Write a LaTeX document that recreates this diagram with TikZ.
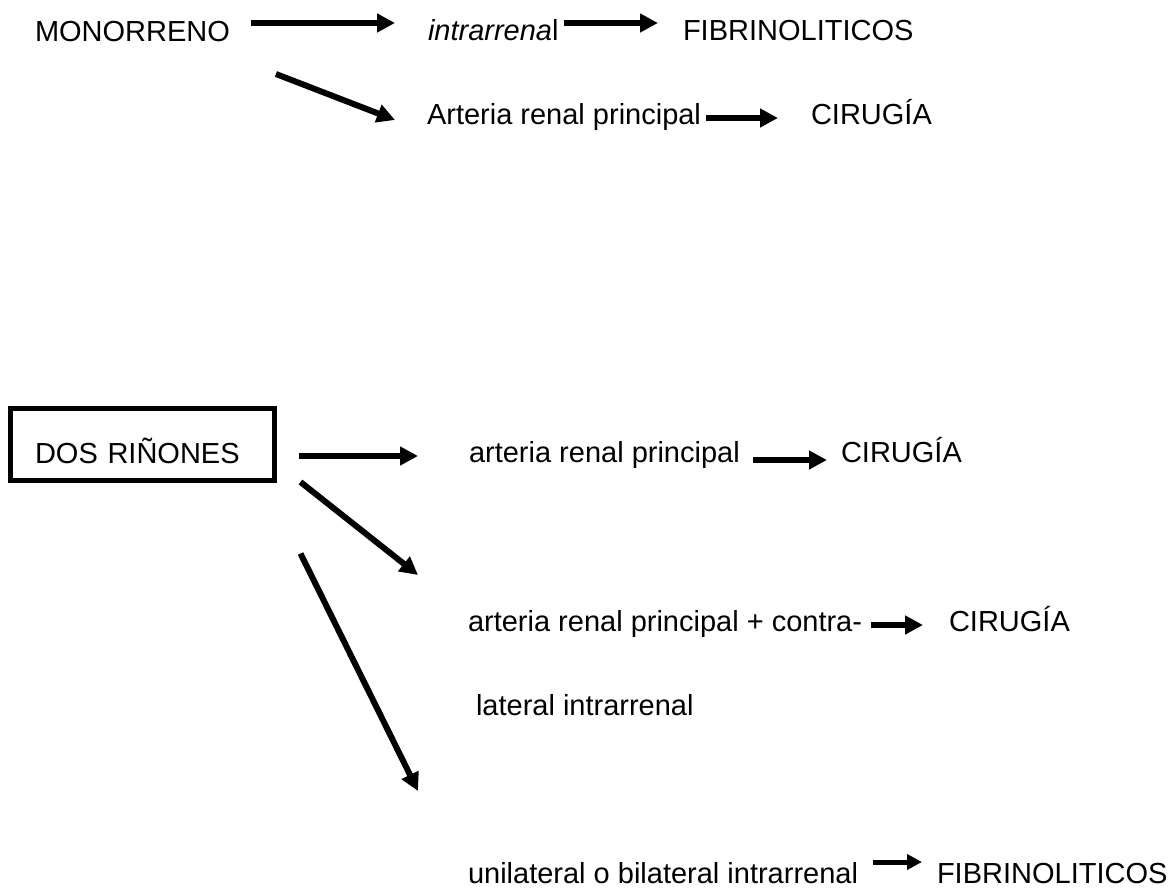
\documentclass[tikz,border=0pt]{standalone}
\usepackage{fontspec}
\setmainfont{Liberation Sans}
\usetikzlibrary{arrows.meta, positioning, calc}

\begin{document}
\begin{tikzpicture}[
    x=1pt, y=1pt,
    every node/.style={inner sep=0pt, outer sep=0pt, font=\fontsize{29}{34}\selectfont},
    txt/.style={anchor=base west},
    box/.style={draw, line width=5pt, minimum width=264pt, minimum height=72pt, text width=215pt, align=left, text height=37pt, text depth=0pt},
    arrow/.style={line width=6pt, -{Triangle[length=18pt, width=18pt]}},
    smallarrow/.style={line width=5pt, -{Triangle[length=15pt, width=15pt]}},
]
\useasboundingbox (0,0) rectangle (1176,-888);

% Nodes
\node[txt] (monorreno) at (35,-42) {MONORRENO};
\node[txt] (intrarrenal) at (428,-41) {\textit{intrarrena}l};
\node[txt] (fibrinoA) at (683,-41) {FIBRINOLITICOS};
\node[txt] (arteriaA) at (427,-125) {Arteria renal principal};
\node[txt] (cirugiaA) at (811,-125) {CIRUGÍA};

\node[box] (dos) at (142.5,-444.5) {DOS RIÑONES};
\node[txt] (arteriaB) at (469,-462) {arteria renal principal};
\node[txt] (cirugiaB) at (841,-462) {CIRUGÍA};
\node[txt] (arteriaC) at (468,-631) {arteria renal principal + contra-};
\node[txt] (cirugiaC) at (949,-631) {CIRUGÍA};
\node[txt] (lateral) at (476,-715) {lateral intrarrenal};
\node[txt] (unilateral) at (468,-883) {unilateral o bilateral intrarrenal};
\node[txt] (fibrinoB) at (937,-883) {FIBRINOLITICOS};

% Connections
\draw[arrow] ([shift={(21,19)}]monorreno.base east) -- ([shift={(-33,18)}]intrarrenal.base west);
\draw[arrow] ([shift={(5,18)}]intrarrenal.base east) -- ([shift={(-25,18)}]fibrinoA.base west);
\draw[arrow] ([shift={(46,-32)}]monorreno.base east) -- ([shift={(-32,5)}]arteriaA.base west);
\draw[arrow] ([shift={(5,7)}]arteriaA.base east) -- ([shift={(-33,7)}]cirugiaA.base west);

\draw[arrow] ([shift={(24.5,-11.5)}]dos.east) -- ([shift={(-51,6)}]arteriaB.base west);
\draw[arrow] ([shift={(26,-1.5)}]dos.south east) -- ([shift={(-50,56)}]arteriaC.base west);
\draw[arrow] ([shift={(26,-73)}]dos.south east) -- ([shift={(-50,92)}]unilateral.base west);
\draw[arrow] ([shift={(13,2)}]arteriaB.base east) -- ([shift={(-14,2)}]cirugiaB.base west);
\draw[arrow] ([shift={(9,6)}]arteriaC.base east) -- ([shift={(-26,6)}]cirugiaC.base west);
\draw[smallarrow] ([shift={(15,21)}]unilateral.base east) -- ([shift={(-15,21)}]fibrinoB.base west);

\end{tikzpicture}
\end{document}
